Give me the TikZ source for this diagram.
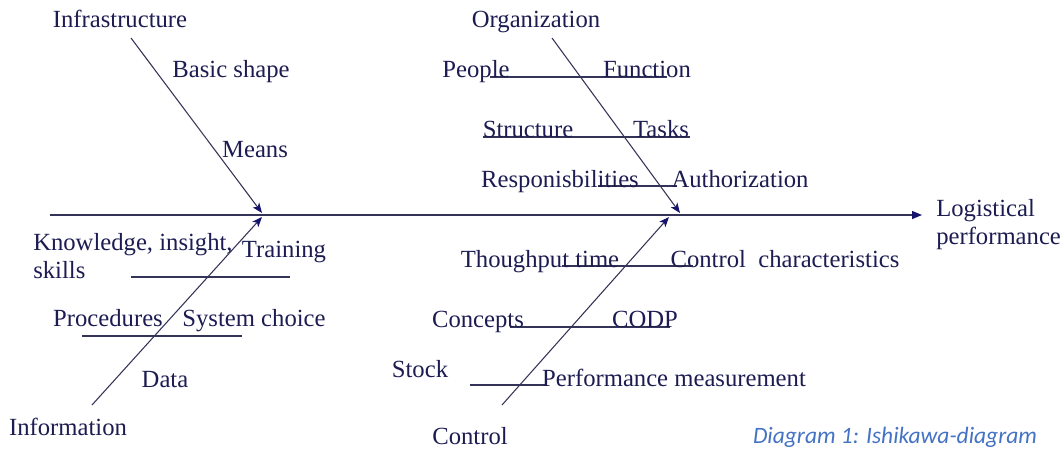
\documentclass[tikz,border=0pt]{standalone}
\usepackage{fontspec}
\setmainfont{Liberation Serif}
\newfontfamily\capfont{Carlito}
\usetikzlibrary{arrows.meta}
\definecolor{navytext}{RGB}{28,28,82}
\definecolor{navyline}{RGB}{52,52,88}
\definecolor{navyhead}{RGB}{20,20,110}
\definecolor{capblue}{RGB}{68,114,196}
\tikzset{
  lbl/.style={inner sep=0pt, anchor=base, text=navytext, font=\fontsize{18.5}{21}\selectfont},
  lblw/.style={lbl, anchor=west, align=left},
  bone/.style={draw=navyline, line width=0.8pt},
  branch/.style={draw=navyline, line width=0.8pt, -{Stealth[length=7.5pt,width=6pt,inset=1.9pt,fill=navyhead,color=navyhead]}},
  spine/.style={draw=navyline, line width=0.9pt, -{Triangle[length=7.5pt,width=6pt,fill=navyhead,color=navyhead]}},
  caption/.style={inner sep=0pt, anchor=base, text=capblue, font=\capfont\itshape\fontsize{17.6}{20}\selectfont}
}
\begin{document}
\begin{tikzpicture}[x=0.75pt,y=-0.75pt]
\useasboundingbox (0,0) rectangle (1063,450);
% spine
\coordinate (s0) at (50,215);
\coordinate (s1) at (922,215);
\draw[spine] (s0) -- (s1);
\node[lblw] (goal) at (936,225) {Logistical\\performance};
% branches
\coordinate (inf0) at (131,38);  \coordinate (inf1) at (262,213);
\coordinate (info0) at (92,405); \coordinate (info1) at (262,217);
\coordinate (org0) at (552,38);  \coordinate (org1) at (680,213);
\coordinate (ctl0) at (502,405); \coordinate (ctl1) at (669,217);
\draw[branch] (inf0) -- (inf1);
\draw[branch] (info0) -- (info1);
\draw[branch] (org0) -- (org1);
\draw[branch] (ctl0) -- (ctl1);
% bones
\coordinate (b1a) at (131,277); \coordinate (b1b) at (290,277);
\coordinate (b2a) at (82,336);  \coordinate (b2b) at (242,336);
\coordinate (b3a) at (490,77);  \coordinate (b3b) at (667,77);
\coordinate (b4a) at (483,137); \coordinate (b4b) at (690,137);
\coordinate (b5a) at (598,186); \coordinate (b5b) at (677,186);
\coordinate (b6a) at (562,266); \coordinate (b6b) at (693,266);
\coordinate (b7a) at (510,327); \coordinate (b7b) at (670,327);
\coordinate (b8a) at (470,385); \coordinate (b8b) at (545,385);
\foreach \b in {1,...,8} \draw[bone] (b\b a) -- (b\b b);
% labels: infrastructure
\node[lbl] (infra) at (120,27) {Infrastructure};
\node[lbl] (basic) at (231,77) {Basic shape};
\node[lbl] (means) at (255,157) {Means};
% information
\node[lblw] (know) at (33,256) {Knowledge, insight,\\skills};
\node[lbl] (train) at (284,257) {Training};
\node[lbl] (proc) at (108,326) {Procedures};
\node[lbl] (sys) at (254,326) {System choice};
\node[lbl] (data) at (165,387) {Data};
\node[lbl] (infor) at (68,435) {Information};
% organization
\node[lbl] (orgn) at (536,27) {Organization};
\node[lbl] (people) at (476,77) {People};
\node[lbl] (func) at (647,77) {Function};
\node[lbl] (struct) at (528,137) {Structure};
\node[lbl] (tasks) at (661,137) {Tasks};
\node[lbl] (resp) at (560,187) {Responisbilities};
\node[lbl] (auth) at (740,187) {Authorization};
% control
\node[lbl] (thru) at (540,267) {Thoughput time};
\node[lbl] (cchar) at (785,267) {Control\ \ characteristics};
\node[lbl] (conc) at (478,327) {Concepts};
\node[lbl] (codp) at (645,327) {CODP};
\node[lbl] (stock) at (420,377) {Stock};
\node[lbl] (perf) at (674,386) {Performance measurement};
\node[lbl] (ctrl) at (470,444) {Control};
% caption
\node[caption] (cap) at (895,443) {Diagram 1: Ishikawa-diagram};
\end{tikzpicture}
\end{document}
